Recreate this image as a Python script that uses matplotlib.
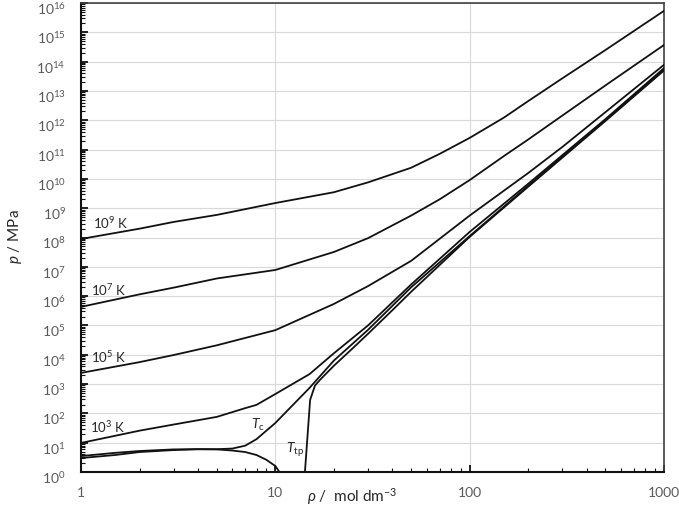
import numpy as np
import matplotlib
matplotlib.use("Agg")
import matplotlib.pyplot as plt
import matplotlib.transforms as mtransforms
from matplotlib.ticker import LogLocator, NullFormatter, FixedLocator, FuncFormatter

plt.rcParams['font.family'] = ['Lato', 'DejaVu Sans']
plt.rcParams['mathtext.fontset'] = 'custom'
plt.rcParams['mathtext.rm'] = 'Lato'
plt.rcParams['mathtext.it'] = 'Lato:italic'

# ---- data (density in mol dm-3, pressure in MPa) ----
rho_1e9K = [1, 2, 3, 5, 10, 20, 30, 50, 70, 100, 150, 200, 300, 500, 1000]
p_1e9K = [8.9e7, 2.0e8, 3.4e8, 5.9e8, 1.5e9, 3.5e9, 7.6e9, 2.4e10, 7.1e10, 2.5e11,
          1.23e12, 4.5e12, 2.7e13, 2.5e14, 5.4e15]

rho_1e7K = [1, 2, 3, 5, 10, 20, 30, 50, 70, 100, 150, 200, 300, 500, 1000]
p_1e7K = [4.3e5, 1.15e6, 1.95e6, 4.0e6, 7.8e6, 3.2e7, 9.5e7, 5.6e8, 2.0e9, 9.1e9,
          6.0e10, 2.2e11, 1.45e12, 1.55e13, 3.7e14]

rho_1e5K = [1, 2, 3, 5, 10, 20, 30, 50, 100, 200, 300, 500, 1000]
p_1e5K = [2.4e3, 5.6e3, 9.8e3, 2.1e4, 6.9e4, 5.4e5, 2.2e6, 1.6e7, 5.6e8, 1.58e10,
          1.23e11, 1.9e12, 7.8e13]

rho_1e3K = [1, 2, 3, 5, 7, 8, 10, 15, 20, 30, 50, 100, 200, 500, 1000]
p_1e3K = [9.8, 25.7, 41.7, 75.9, 151, 195, 457, 2.19e3, 1.12e4, 1.0e5, 2.5e6, 1.55e8,
          6.8e9, 1.1e12, 6.0e13]

rho_Tc = [1, 1.5, 2, 3, 4, 5, 6, 7, 8, 10, 15, 20, 30, 50, 100, 200, 500, 1000]
p_Tc = [3.5, 4.5, 5.2, 5.9, 6.0, 6.0, 6.3, 7.9, 13.2, 47, 741, 6.3e3, 7.1e4, 2.0e6,
        1.12e8, 5.8e9, 1.02e12, 5.2e13]

rho_Ttp = [14.2, 15.1, 16, 17, 20, 25, 30, 40, 50, 100, 200, 500, 1000]
p_Ttp = [1.0, 288, 891, 1.41e3, 4.2e3, 1.66e4, 5.2e4, 3.3e5, 1.41e6, 1.05e8, 5.4e9,
         9.5e11, 5.0e13]

rho_sat = [1, 1.5, 2, 3, 4, 5, 6, 7, 8, 9, 10, 10.5]
p_sat = [3.0, 3.8, 4.8, 5.6, 6.0, 5.9, 5.4, 4.8, 3.8, 2.6, 1.6, 1.0]

x_ticks = [1, 10, 100, 1000]
x_ticklabels = ['1', '10', '100', '1000']
y_exponents = list(range(0, 17))

curve_labels = [r'10$^{9}$ K', r'10$^{7}$ K', r'10$^{5}$ K', r'10$^{3}$ K']

# ---- figure ----
W, H = 679, 509
fig = plt.figure(figsize=(W / 100, H / 100), dpi=100)
ax = fig.add_axes([81 / W, 1 - 472 / H, (664 - 81) / W, (472 - 3) / H])

lc = '#111111'
lw = 1.3
for r, p in [(rho_1e9K, p_1e9K), (rho_1e7K, p_1e7K), (rho_1e5K, p_1e5K),
             (rho_1e3K, p_1e3K), (rho_Tc, p_Tc), (rho_Ttp, p_Ttp), (rho_sat, p_sat)]:
    ax.plot(r, p, color=lc, lw=lw, solid_joinstyle='round', zorder=3)

ax.set_xscale('log')
ax.set_yscale('log')
ax.set_xlim(1, 1000)
ax.set_ylim(1, 1e16)

ax.set_xticks(x_ticks)
ax.set_xticklabels(x_ticklabels)
ax.xaxis.set_minor_locator(LogLocator(base=10, subs=np.arange(2, 10), numticks=100))
ax.xaxis.set_minor_formatter(NullFormatter())

ax.yaxis.set_major_locator(FixedLocator([10.0 ** k for k in y_exponents]))
ax.yaxis.set_major_formatter(FuncFormatter(lambda v, pos: r'10$^{%d}$' % round(np.log10(v))))
ax.yaxis.set_minor_locator(LogLocator(base=10, subs=np.arange(2, 10), numticks=200))
ax.yaxis.set_minor_formatter(NullFormatter())

ax.tick_params(axis='both', which='both', direction='in', colors='#111111',
               labelcolor='#595959', labelsize=10, pad=11)
ax.tick_params(axis='both', which='major', length=5, width=1.3)
ax.tick_params(axis='both', which='minor', length=3, width=0.8)
ax.tick_params(top=False, right=False)

# shift y tick labels slightly down (as in the reference)
offset = mtransforms.ScaledTranslation(0, -5 / 100, fig.dpi_scale_trans)
for t in ax.yaxis.get_major_ticks():
    t.label1.set_transform(t.label1.get_transform() + offset)

ax.grid(True, which='major', color='#d9d9d9', lw=0.8, zorder=0)
ax.set_axisbelow(True)
for s in ['left', 'bottom']:
    ax.spines[s].set_linewidth(1.5)
    ax.spines[s].set_color('#111111')
for s in ['top', 'right']:
    ax.spines[s].set_linewidth(1.2)
    ax.spines[s].set_color('#404040')

# curve labels
tcol = '#262626'
label_pos = [(1.15, 3.1e8), (1.13, 1.6e6), (1.13, 8.4e3), (1.11, 34)]
for (x, y), t in zip(label_pos, curve_labels):
    ax.text(x, y, t, fontsize=9.5, color=tcol, ha='left', va='center')
ax.text(8.1, 40, r'$T_{\rm c}$', fontsize=10, color=tcol, ha='center', va='center')
ax.text(12.7, 5.6, r'$T_{\rm tp}$', fontsize=10, color=tcol, ha='center', va='center')

# axis titles
fig.text(352 / W, 1 - 497 / H, r'$\rho$ /  mol dm$^{-3}$', fontsize=11, color=tcol,
         ha='center', va='center')
fig.text(15 / W, 1 - 237 / H, r'$p$ / MPa', fontsize=11, color=tcol,
         ha='center', va='center', rotation=90)

fig.savefig('out.png', dpi=100)
